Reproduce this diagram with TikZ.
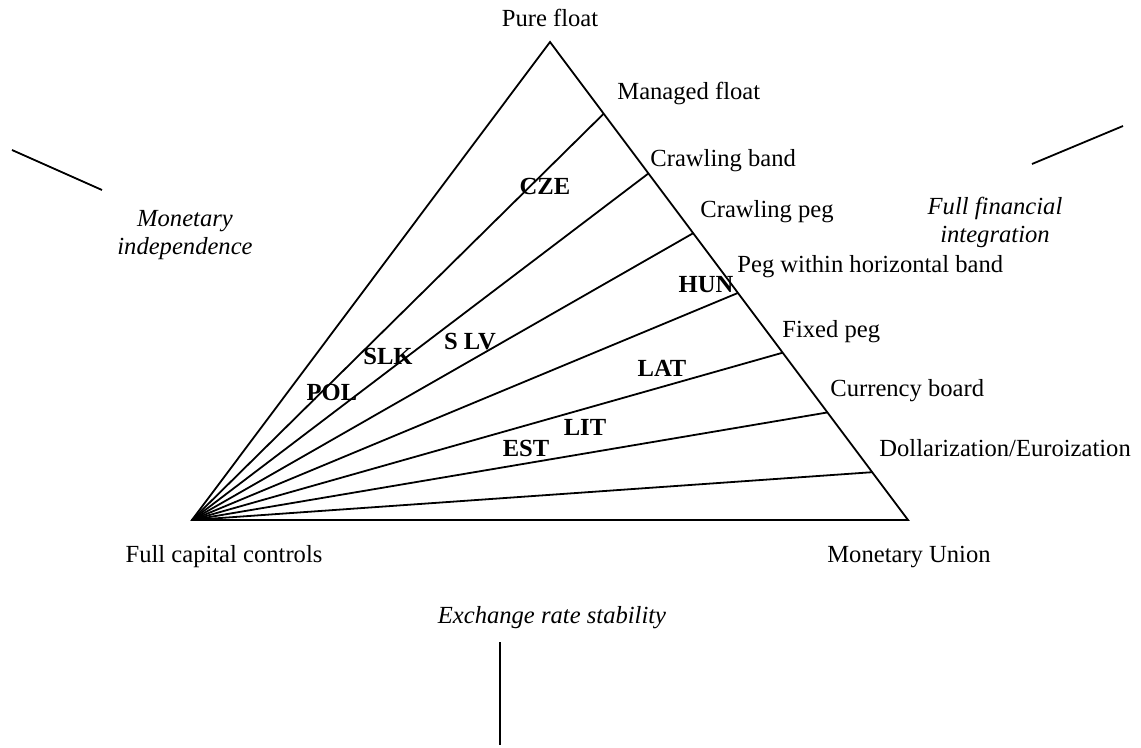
\documentclass[tikz,border=0pt]{standalone}
\usepackage{fontspec}
\setmainfont{Liberation Serif}
\usetikzlibrary{calc,positioning}
\newcommand{\figfont}{\fontsize{12.3}{14}\selectfont}
\tikzset{
  regime/.style  = {anchor=base west, font=\figfont},
  corner/.style  = {anchor=base, font=\figfont},
  goal/.style    = {align=center, font=\figfont\itshape},
  country/.style = {font=\figfont\bfseries},
  edge/.style    = {draw, line width=0.9pt},
}

\begin{document}
\begin{tikzpicture}[
        x = 0.5pt,
        y = -0.5pt,
        every node/.style = {inner sep=0pt}
    ]
    \useasboundingbox (0,0) rectangle (1141,748);

    \coordinate (top) at (550,42);
    \coordinate (bl) at (192,520);
    \coordinate (br) at (908,520);
    \draw[edge, line join=miter] (bl) -- (top) -- (br) -- cycle;

    \foreach \i/\t in {1/0.15, 2/0.275, 3/0.4, 4/0.525, 5/0.65, 6/0.775, 7/0.9}{
        \coordinate (r\i) at ($(top)!\t!(br)$);
        \draw[edge] (bl) -- (r\i);
    }

    \node[corner] (pure) at (550,27) {Pure float};
    \node[regime] (managed) at (617,100) {Managed float};
    \node[regime] (cband) at (650,167) {Crawling band};
    \node[regime] (cpeg) at (700,218) {Crawling peg};
    \node[regime] (hband) at (737,273) {Peg within horizontal band};
    \node[regime] (fixed) at (782,338) {Fixed peg};
    \node[regime] (board) at (830,397) {Currency board};
    \node[regime] (dollar) at (879,457) {Dollarization/Euroization};
    \node[corner] (capital) at (224,563) {Full capital controls};
    \node[corner] (union) at (909,563) {Monetary Union};

    \node[goal] (indep) at (185,235) {Monetary\\independence};
    \node[goal] (integ) at (995,222) {Full financial\\integration};
    \node[goal, anchor=base] (stab) at (552,623) {Exchange rate stability};

    \coordinate (mi1) at (12,150);
    \coordinate (mi2) at (102,190);
    \coordinate (fi1) at (1032,164);
    \coordinate (fi2) at (1123,126);
    \coordinate (er1) at (500,642);
    \coordinate (er2) at (500,745);
    \draw[edge] (mi1) -- (mi2);
    \draw[edge] (fi1) -- (fi2);
    \draw[edge] (er1) -- (er2);

    \node[country] (cze) at (545,186) {CZE};
    \node[country] (hun) at (706,285) {HUN};
    \node[country] (slk) at (388,356) {SLK};
    \node[country] (slv) at (470,342) {S LV};
    \node[country] (pol) at (332,392) {POL};
    \node[country] (lat) at (662,368) {LAT};
    \node[country] (lit) at (585,427) {LIT};
    \node[country] (est) at (526,448) {EST};
\end{tikzpicture}
\end{document}
